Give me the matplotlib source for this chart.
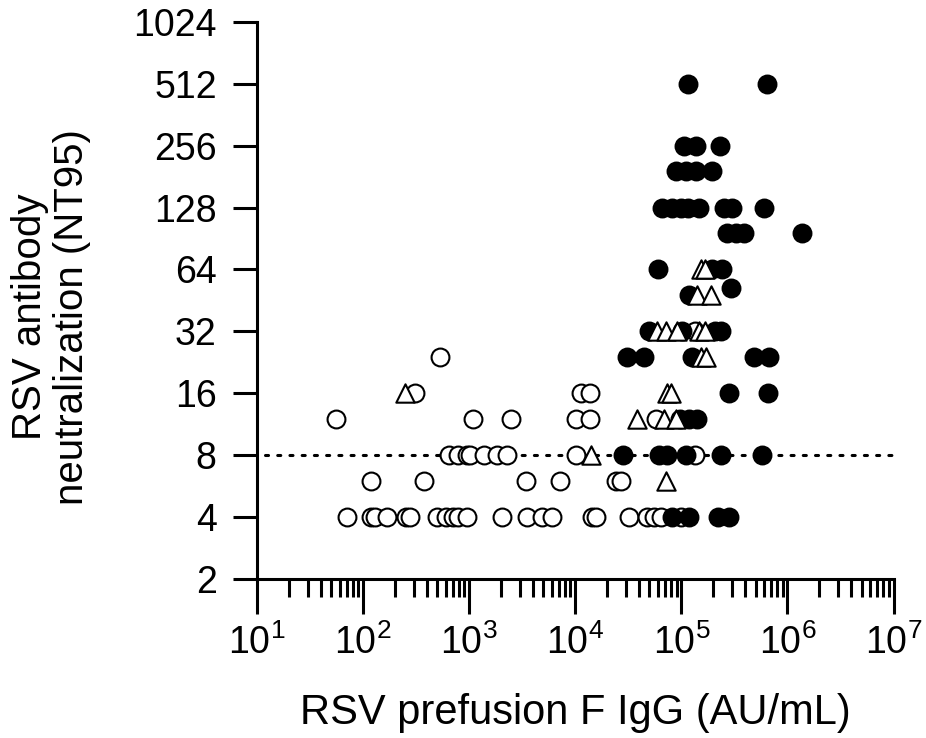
import matplotlib
matplotlib.use("Agg")
import matplotlib.pyplot as plt
from matplotlib.ticker import LogLocator, NullLocator

plt.rcParams['font.family'] = ['Liberation Sans', 'DejaVu Sans']
plt.rcParams['mathtext.default'] = 'regular'

# open circles
open_x = [527,
          306, 11300, 13700,
          55, 1080, 2500, 10200, 13700, 58000,
          640, 780, 945, 1010, 1365, 1810, 2250, 10200, 135000,
          118, 372, 3400, 7240, 24400, 27200,
          70, 118, 129, 167, 252, 275, 493, 600, 698, 778, 945, 2020, 3470,
          4900, 6090, 14500, 15800, 32300, 47700, 55500, 64600, 99600,
          135000]
open_y = [24,
          16, 16, 16,
          12, 12, 12, 12, 12, 12,
          8, 8, 8, 8, 8, 8, 8, 8, 8,
          6, 6, 6, 6, 6, 6,
          4, 4, 4, 4, 4, 4, 4, 4, 4, 4, 4, 4, 4,
          4, 4, 4, 4, 4, 4, 4, 4, 4,
          32]

# open triangles
tri_x = [153000, 167000,
         141000, 191000,
         59200, 71900, 91200, 147000, 167000,
         153000, 171000,
         247, 73500, 80100,
         38400, 68900, 89300,
         14200,
         71900]
tri_y = [64, 64,
         48, 48,
         32, 32, 32, 32, 32,
         24, 24,
         16, 16, 16,
         12, 12, 12,
         8,
         6]

# filled circles
fill_x = [116000, 641000,
          106000, 138000, 232000,
          89300, 111000, 138000, 195000,
          65900, 81900, 99600, 116000, 147000, 253000, 301000, 601000,
          270000, 328000, 390000, 1370000,
          60500, 195000, 242000,
          294000,
          118000,
          49800, 102000, 208000, 237000,
          30900, 44700, 126000, 484000, 670000,
          282000, 656000,
          97500, 118000, 141000,
          28400, 61800, 73500, 111000, 237000, 575000,
          81900, 118000, 222000, 282000]
fill_y = [512, 512,
          256, 256, 256,
          192, 192, 192, 192,
          128, 128, 128, 128, 128, 128, 128, 128,
          96, 96, 96, 96,
          64, 64, 64,
          52,
          48,
          32, 32, 32, 32,
          24, 24, 24, 24, 24,
          16, 16,
          12, 12, 12,
          8, 8, 8, 8, 8, 8,
          4, 4, 4, 4]

y_ticks = [2, 4, 8, 16, 32, 64, 128, 256, 512, 1024]
cutoff = 8

fig = plt.figure(figsize=(9.26, 7.38), dpi=100)
ax = fig.add_axes([0.2775, 0.216, 0.6875, 0.754])

ax.axhline(cutoff, xmin=0.012, xmax=1, color='black', lw=2.2,
           ls=(0, (1, 3)), dash_capstyle='round', zorder=1)

ax.scatter(open_x, open_y, s=165, marker='o', facecolor='white',
           edgecolor='black', linewidth=1.5, zorder=2)
ax.scatter(fill_x, fill_y, s=165, marker='o', facecolor='black',
           edgecolor='black', linewidth=1.5, zorder=3)
ax.scatter(tri_x, tri_y, s=175, marker='^', facecolor='white',
           edgecolor='black', linewidth=1.5, zorder=4)

ax.set_xscale('log')
ax.set_yscale('log', base=2)
ax.set_xlim(10, 1e7)
ax.set_ylim(2, 1024)

ax.set_yticks(y_ticks)
ax.set_yticklabels([str(t) for t in y_ticks])
ax.yaxis.set_minor_locator(NullLocator())
ax.xaxis.set_major_locator(LogLocator(base=10, numticks=10))
ax.xaxis.set_minor_locator(LogLocator(base=10, subs=range(2, 10), numticks=20))

for side in ['top', 'right']:
    ax.spines[side].set_visible(False)
for side in ['left', 'bottom']:
    ax.spines[side].set_linewidth(2.2)

ax.tick_params(axis='y', which='major', length=17, width=2.2, labelsize=27, pad=12)
ax.tick_params(axis='x', which='major', length=25, width=2.2, labelsize=27, pad=8)
ax.tick_params(axis='x', which='minor', length=13, width=2.2)

ax.set_xlabel('RSV prefusion F IgG (AU/mL)', fontsize=30, labelpad=22)
ax.set_ylabel('RSV antibody\nneutralization (NT95)', fontsize=29,
              linespacing=1.15)
ax.yaxis.set_label_coords(-0.26, 0.47)

fig.savefig('out.png', dpi=100, facecolor='white')
